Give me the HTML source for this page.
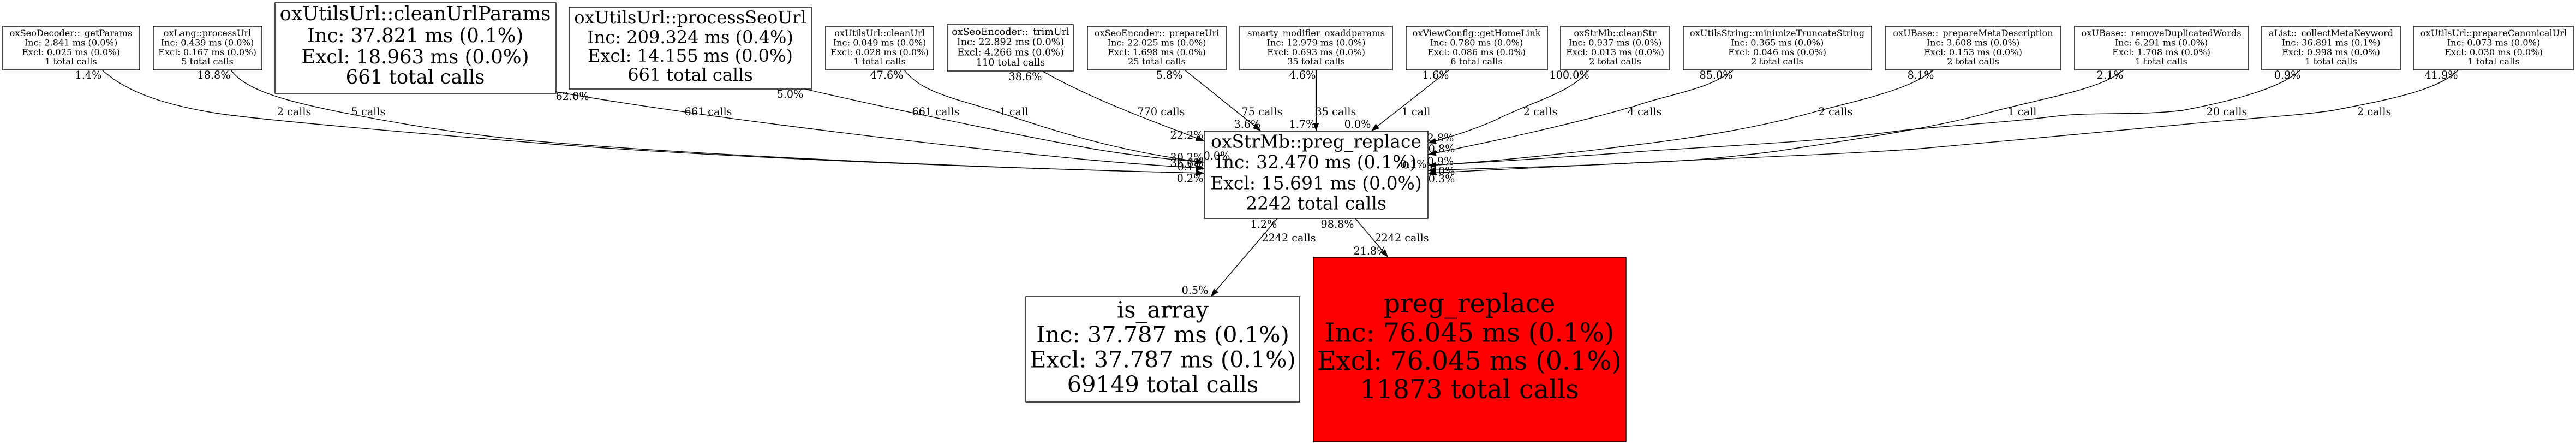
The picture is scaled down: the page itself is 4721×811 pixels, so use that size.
<!DOCTYPE html>
<html><head><meta charset="utf-8"><style>
html,body{margin:0;padding:0;background:#fff}
svg{display:block}
text{font-family:"DejaVu Serif","Liberation Serif",serif;text-anchor:middle;fill:#000}
rect{stroke:#000;stroke-width:1.4;fill:#fff}
.e path,.e line{fill:none;stroke:#000;stroke-width:1.4;marker-end:url(#a)}
.s text{font-size:16.2px}
.l text{font-size:19.2px}
</style></head><body>
<svg width="4721" height="811" viewBox="0 0 4721 811" xmlns="http://www.w3.org/2000/svg">
<defs><marker id="a" markerUnits="userSpaceOnUse" markerWidth="16" markerHeight="12" refX="15" refY="5.5" orient="auto"><path d="M0 0L15 5.5L0 11Z" fill="#000"/></marker></defs>

<rect x="5" y="48" width="251" height="80"/><rect x="281" y="48" width="199" height="80"/>
<rect x="504" y="5" width="515" height="166"/><rect x="1043" y="13" width="444" height="150"/>
<rect x="1513" y="48" width="198" height="80"/><rect x="1736" y="45" width="231" height="85"/>
<rect x="1993" y="48" width="254" height="80"/><rect x="2272" y="48" width="280" height="80"/>
<rect x="2577" y="48" width="259" height="80"/><rect x="2860" y="48" width="199" height="80"/>
<rect x="3085" y="48" width="345" height="80"/><rect x="3455" y="48" width="322" height="80"/>
<rect x="3802" y="48" width="319" height="80"/><rect x="4145" y="48" width="254" height="80"/>
<rect x="4423" y="48" width="293" height="80"/>
<rect x="2207" y="240" width="410" height="160"/>
<rect x="1880" y="543" width="502" height="193"/>
<rect x="2407" y="471" width="573" height="338" style="fill:#f00"/>

<g class="e">
<path d="M187 128C228 165 290 190 395 207C480 220 750 243 1000 263C1250 283 1700 305 2207 317"/>
<path d="M423 128C450 165 520 185 638 208C760 232 880 250 1000 260C1250 281 1700 305 2207 317"/>
<path d="M1018 168C1200 200 1600 255 2000 293C2080 300 2150 305 2207 308"/>
<path d="M1475 163C1600 192 1850 245 2000 272C2080 286 2150 292 2207 297"/>
<path d="M1657 128C1690 172 1760 182 1835 207C1910 232 2040 277 2207 297"/>
<path d="M1912 131C1990 176 2100 218 2207 258"/>
<line x1="2171" y1="128" x2="2311" y2="240"/>
<line x1="2412" y1="128" x2="2412" y2="240" style="stroke-width:2.2"/>
<line x1="2656" y1="128" x2="2513" y2="240"/>
<path d="M2912 128C2880 170 2810 185 2740 220C2700 238 2660 250 2617 262"/>
<path d="M3177 128C3130 165 3060 172 3000 193C2880 228 2740 258 2617 283"/>
<path d="M3544 128C3500 165 3400 185 3332 203C3220 235 3100 253 3000 265C2900 278 2750 295 2617 303"/>
<path d="M3892 128C3850 165 3740 180 3638 208C3540 235 3400 255 3255 277C3170 288 3080 296 3000 298C2900 304 2750 307 2617 312"/>
<path d="M4216 128C4180 162 4090 185 4000 202C3920 212 3840 204 3765 213C3670 225 3590 228 3485 239C3320 262 3130 268 3000 278C2900 286 2750 295 2617 303"/>
<path d="M4505 128C4470 165 4380 182 4276 202C4210 212 4100 218 4000 228C3850 243 3670 258 3510 273C3330 285 3150 290 3000 298C2900 303 2750 310 2617 317"/>
<line x1="2341" y1="400" x2="2219" y2="543"/>
<line x1="2484" y1="400" x2="2544" y2="471"/>
</g>

<g class="s">
<text x="130" y="66">oxSeoDecoder::_getParams</text><text x="130" y="83.5">Inc: 2.841 ms (0.0%)</text><text x="130" y="101">Excl: 0.025 ms (0.0%)</text><text x="130" y="118">1 total calls</text>
<text x="380" y="66">oxLang::processUrl</text><text x="380" y="83.5">Inc: 0.439 ms (0.0%)</text><text x="380" y="101">Excl: 0.167 ms (0.0%)</text><text x="380" y="118">5 total calls</text>
<text x="1612" y="66">oxUtilsUrl::cleanUrl</text><text x="1612" y="83.5">Inc: 0.049 ms (0.0%)</text><text x="1612" y="101">Excl: 0.028 ms (0.0%)</text><text x="1612" y="118">1 total calls</text>
<text x="2120" y="66">oxSeoEncoder::_prepareUri</text><text x="2120" y="83.5">Inc: 22.025 ms (0.0%)</text><text x="2120" y="101">Excl: 1.698 ms (0.0%)</text><text x="2120" y="118">25 total calls</text>
<text x="2412" y="66">smarty_modifier_oxaddparams</text><text x="2412" y="83.5">Inc: 12.979 ms (0.0%)</text><text x="2412" y="101">Excl: 0.693 ms (0.0%)</text><text x="2412" y="118">35 total calls</text>
<text x="2706" y="66">oxViewConfig::getHomeLink</text><text x="2706" y="83.5">Inc: 0.780 ms (0.0%)</text><text x="2706" y="101">Excl: 0.086 ms (0.0%)</text><text x="2706" y="118">6 total calls</text>
<text x="2960" y="66">oxStrMb::cleanStr</text><text x="2960" y="83.5">Inc: 0.937 ms (0.0%)</text><text x="2960" y="101">Excl: 0.013 ms (0.0%)</text><text x="2960" y="118">2 total calls</text>
<text x="3257" y="66">oxUtilsString::minimizeTruncateString</text><text x="3257" y="83.5">Inc: 0.365 ms (0.0%)</text><text x="3257" y="101">Excl: 0.046 ms (0.0%)</text><text x="3257" y="118">2 total calls</text>
<text x="3616" y="66">oxUBase::_prepareMetaDescription</text><text x="3616" y="83.5">Inc: 3.608 ms (0.0%)</text><text x="3616" y="101">Excl: 0.153 ms (0.0%)</text><text x="3616" y="118">2 total calls</text>
<text x="3961" y="66">oxUBase::_removeDuplicatedWords</text><text x="3961" y="83.5">Inc: 6.291 ms (0.0%)</text><text x="3961" y="101">Excl: 1.708 ms (0.0%)</text><text x="3961" y="118">1 total calls</text>
<text x="4272" y="66">aList::_collectMetaKeyword</text><text x="4272" y="83.5">Inc: 36.891 ms (0.1%)</text><text x="4272" y="101">Excl: 0.998 ms (0.0%)</text><text x="4272" y="118">1 total calls</text>
<text x="4570" y="66">oxUtilsUrl::prepareCanonicalUrl</text><text x="4570" y="83.5">Inc: 0.073 ms (0.0%)</text><text x="4570" y="101">Excl: 0.030 ms (0.0%)</text><text x="4570" y="118">1 total calls</text>
</g>
<g font-size="17.6">
<text x="1852" y="64">oxSeoEncoder::_trimUrl</text><text x="1852" y="82.7">Inc: 22.892 ms (0.0%)</text><text x="1852" y="101.7">Excl: 4.266 ms (0.0%)</text><text x="1852" y="120">110 total calls</text>
</g>
<g font-size="35.5">
<text x="761" y="37">oxUtilsUrl::cleanUrlParams</text><text x="761" y="77">Inc: 37.821 ms (0.1%)</text><text x="761" y="116">Excl: 18.963 ms (0.0%)</text><text x="761" y="153">661 total calls</text>
</g>
<g font-size="32">
<text x="1265" y="43">oxUtilsUrl::processSeoUrl</text><text x="1265" y="79">Inc: 209.324 ms (0.4%)</text><text x="1265" y="113">Excl: 14.155 ms (0.0%)</text><text x="1265" y="148">661 total calls</text>
</g>
<g font-size="33">
<text x="2412" y="270.7">oxStrMb::preg_replace</text><text x="2412" y="308">Inc: 32.470 ms (0.1%)</text><text x="2412" y="346.7">Excl: 15.691 ms (0.0%)</text><text x="2412" y="383.3">2242 total calls</text>
</g>
<g font-size="41.5">
<text x="2131" y="581.5">is_array</text><text x="2131" y="627">Inc: 37.787 ms (0.1%)</text><text x="2131" y="672.5">Excl: 37.787 ms (0.1%)</text><text x="2131" y="718">69149 total calls</text>
</g>
<g font-size="47.5">
<text x="2693" y="572">preg_replace</text><text x="2693" y="625.5">Inc: 76.045 ms (0.1%)</text><text x="2693" y="677">Excl: 76.045 ms (0.1%)</text><text x="2693" y="729">11873 total calls</text>
</g>

<g class="l">
<text x="162" y="144">1.4%</text><text x="392" y="144">18.8%</text><text x="1049" y="183">62.0%</text><text x="1448" y="179">5.0%</text>
<text x="1625" y="144">47.6%</text><text x="1879" y="147">38.6%</text><text x="2143" y="144">5.8%</text><text x="2387" y="144">4.6%</text>
<text x="2631" y="144">1.6%</text><text x="2876" y="144">100.0%</text><text x="3145" y="144">85.0%</text><text x="3520" y="144">8.1%</text>
<text x="3867" y="144">2.1%</text><text x="4192" y="144">0.9%</text><text x="4474" y="144">41.9%</text>
<text x="2286" y="234">3.6%</text><text x="2387" y="234">1.7%</text><text x="2488" y="234">0.0%</text>
<text x="2175" y="254">22.2%</text><text x="2175" y="295">30.2%</text><text x="2230" y="292">0.0%</text><text x="2175" y="305">36.6%</text><text x="2182" y="312">0.1%</text><text x="2181" y="333">0.2%</text>
<text x="2640" y="259">2.8%</text><text x="2642" y="279">0.8%</text><text x="2640" y="302">0.9%</text><text x="2642" y="320">1.0%</text><text x="2642" y="334">0.3%</text><text x="2590" y="307">0.1%</text>
<text x="2316" y="417">1.2%</text><text x="2451" y="417">98.8%</text><text x="2511" y="466">21.8%</text><text x="2190" y="538">0.5%</text>
</g>
<g class="l">
<text x="539" y="211">2 calls</text><text x="675" y="211">5 calls</text><text x="1298" y="211">661 calls</text><text x="1715" y="211">661 calls</text>
<text x="1858" y="211">1 call</text><text x="2128" y="211">770 calls</text><text x="2313" y="211">75 calls</text><text x="2448" y="211">35 calls</text>
<text x="2595" y="211">1 call</text><text x="2823" y="211">2 calls</text><text x="3014" y="211">4 calls</text><text x="3364" y="211">2 calls</text>
<text x="3706" y="211">1 call</text><text x="4081" y="211">20 calls</text><text x="4351" y="211">2 calls</text>
<text x="2362" y="442">2242 calls</text><text x="2569" y="442">2242 calls</text>
</g>
</svg>
</body></html>
